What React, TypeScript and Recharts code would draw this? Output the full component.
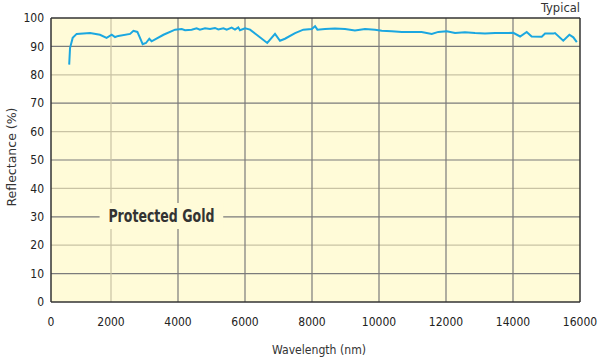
import {
  LineChart,
  Line,
  XAxis,
  YAxis,
  ReferenceArea,
  ReferenceLine,
} from 'recharts'

// wavelength (nm) and reflectance (%)
const wavelength = [
  752, 777, 856, 975, 1375, 1671, 1868, 2022, 2120, 2219, 2570, 2669, 2787,
  2866, 2945, 3044, 3143, 3212, 3567, 3913, 4111, 4210, 4407, 4555, 4654,
  4807, 4955, 5104, 5202, 5356, 5454, 5602, 5701, 5800, 5849, 6002, 6151,
  6348, 6664, 6896, 7045, 7193, 7494, 7741, 7993, 8092, 8161, 8388, 8684,
  8986, 9282, 9583, 9880, 10082, 10378, 10680, 10976, 11272, 11574, 11771,
  12023, 12270, 12566, 12867, 13164, 13465, 13762, 14009, 14212, 14409,
  14557, 14858, 14957, 15204, 15253, 15500, 15683, 15801, 15905,
]
const reflectance = [
  83.6, 89.4, 93, 94.4, 94.7, 94.1, 93, 94.1, 93.3, 93.7, 94.4, 95.5, 95.1,
  93, 90.8, 91.2, 92.7, 91.8, 94.1, 95.9, 96.1, 95.7, 95.9, 96.4, 95.9,
  96.4, 96.1, 96.5, 96, 96.4, 95.9, 96.6, 95.9, 96.7, 95.7, 96.4, 95.9,
  94.1, 91.2, 94.4, 92, 92.7, 94.7, 95.9, 96.1, 97.1, 95.9, 96.1, 96.3,
  96.1, 95.6, 96.1, 95.9, 95.5, 95.3, 95.1, 95.1, 95.1, 94.4, 95.1, 95.3,
  94.7, 95, 94.7, 94.5, 94.7, 94.7, 94.8, 93.5, 95.1, 93.5, 93.4, 94.5,
  94.5, 94.7, 92, 94.1, 93.2, 91.5,
]
const xTicks = [0, 2000, 4000, 6000, 8000, 10000, 12000, 14000, 16000]
const yTicks = [0, 10, 20, 30, 40, 50, 60, 70, 80, 90, 100]
const xGrid = [2000, 4000, 6000, 8000, 10000, 12000, 14000]
const yGrid = [10, 20, 30, 40, 50, 60, 70, 80, 90]

// the printed frame starts a little right of the zero mark
const frameLeft = 209
const frameRight = 16000

const data = wavelength.map((w, i) => ({
  wavelength: w,
  reflectance: reflectance[i],
}))

const font = '"DejaVu Sans Condensed", "Liberation Sans", sans-serif'
const bg = '#fffbd8'
const dark = '#7b7b7b'
const tan = '#c9c3a4'
const frame = '#333'

const tickStyle = { fontFamily: font, fontSize: 12, fill: '#222' }

const XTick = (props: any) => {
  const { x, y, payload } = props
  return (
    <text
      x={payload.value === 0 ? x + 7 : x}
      y={y}
      dy={4}
      textAnchor="middle"
      fontFamily={font}
      fontSize={12}
      fill="#222"
    >
      {payload.value}
    </text>
  )
}

export default function App() {
  return (
    <div style={{ position: 'absolute', left: 0, top: 0, background: '#fff' }}>
      <svg width={600} height={357} style={{ position: 'absolute', left: 0, top: 0 }}>
        <text
          x={580}
          y={12}
          textAnchor="end"
          fontFamily={font}
          fontSize={12.5}
          fill="#333"
          textLength={39}
          lengthAdjust="spacingAndGlyphs"
        >
          Typical
        </text>
        <text
          x={0}
          y={0}
          transform="translate(16,157) rotate(-90)"
          textAnchor="middle"
          fontFamily={font}
          fontSize={12.5}
          fill="#333"
          textLength={99}
          lengthAdjust="spacingAndGlyphs"
        >
          Reflectance (%)
        </text>
        <text
          x={319}
          y={354}
          textAnchor="middle"
          fontFamily={font}
          fontSize={12.5}
          fill="#333"
          textLength={94}
          lengthAdjust="spacingAndGlyphs"
        >
          Wavelength (nm)
        </text>
      </svg>

      <LineChart
        width={600}
        height={357}
        data={data}
        margin={{ top: 18, right: 20, bottom: 0, left: 0 }}
        style={{ position: 'relative' }}
      >
        <XAxis
          dataKey="wavelength"
          type="number"
          domain={[0, 16000]}
          ticks={xTicks}
          interval={0}
          tickLine={false}
          axisLine={false}
          tick={<XTick />}
          tickSize={0}
          tickMargin={20}
          height={55}
        />

        <YAxis
          domain={[0, 100]}
          ticks={yTicks}
          interval={0}
          tickLine={false}
          axisLine={false}
          tick={tickStyle}
          tickSize={0}
          tickMargin={0}
          width={44}
        />

        <ReferenceArea
          x1={frameLeft}
          x2={frameRight}
          y1={0}
          y2={100}
          fill={bg}
          fillOpacity={1}
          stroke="none"
          zIndex={50}
        />

        {yGrid.map((v) => (
          <ReferenceLine
            key={'y' + v}
            segment={[
              { x: frameLeft, y: v },
              { x: frameRight, y: v },
            ]}
            stroke={v % 20 === 0 ? tan : dark}
            strokeWidth={1.2}
            zIndex={60}
          />
        ))}

        {xGrid.map((v) => (
          <ReferenceLine
            key={'x' + v}
            x={v}
            stroke={v === 2000 ? tan : dark}
            strokeWidth={1.2}
            zIndex={60}
          />
        ))}

        <ReferenceArea
          x1={1660}
          x2={5350}
          y1={25.7}
          y2={34.9}
          fill={bg}
          fillOpacity={1}
          stroke="none"
          zIndex={70}
          label={(props: any) => {
            const vb = props.viewBox
            return (
              <text
                x={vb.x + vb.width / 2}
                y={vb.y + vb.height / 2 + 6}
                textAnchor="middle"
                fontFamily={font}
                fontSize={17}
                fontWeight="bold"
                fill="#333"
                textLength={106}
                lengthAdjust="spacingAndGlyphs"
              >
                Protected Gold
              </text>
            )
          }}
        />

        <ReferenceLine
          segment={[
            { x: frameLeft, y: 100 },
            { x: frameRight, y: 100 },
          ]}
          stroke={frame}
          strokeWidth={1.5}
          zIndex={80}
        />
        <ReferenceLine
          segment={[
            { x: frameLeft, y: 0 },
            { x: frameRight, y: 0 },
          ]}
          stroke={frame}
          strokeWidth={1.5}
          zIndex={80}
        />
        <ReferenceLine x={frameLeft} stroke={frame} strokeWidth={1.5} zIndex={80} />
        <ReferenceLine x={frameRight} stroke={frame} strokeWidth={1.5} zIndex={80} />

        <Line
          type="linear"
          dataKey="reflectance"
          stroke="#1ba7e0"
          strokeWidth={2}
          dot={false}
          isAnimationActive={false}
        />
      </LineChart>
    </div>
  )
}
